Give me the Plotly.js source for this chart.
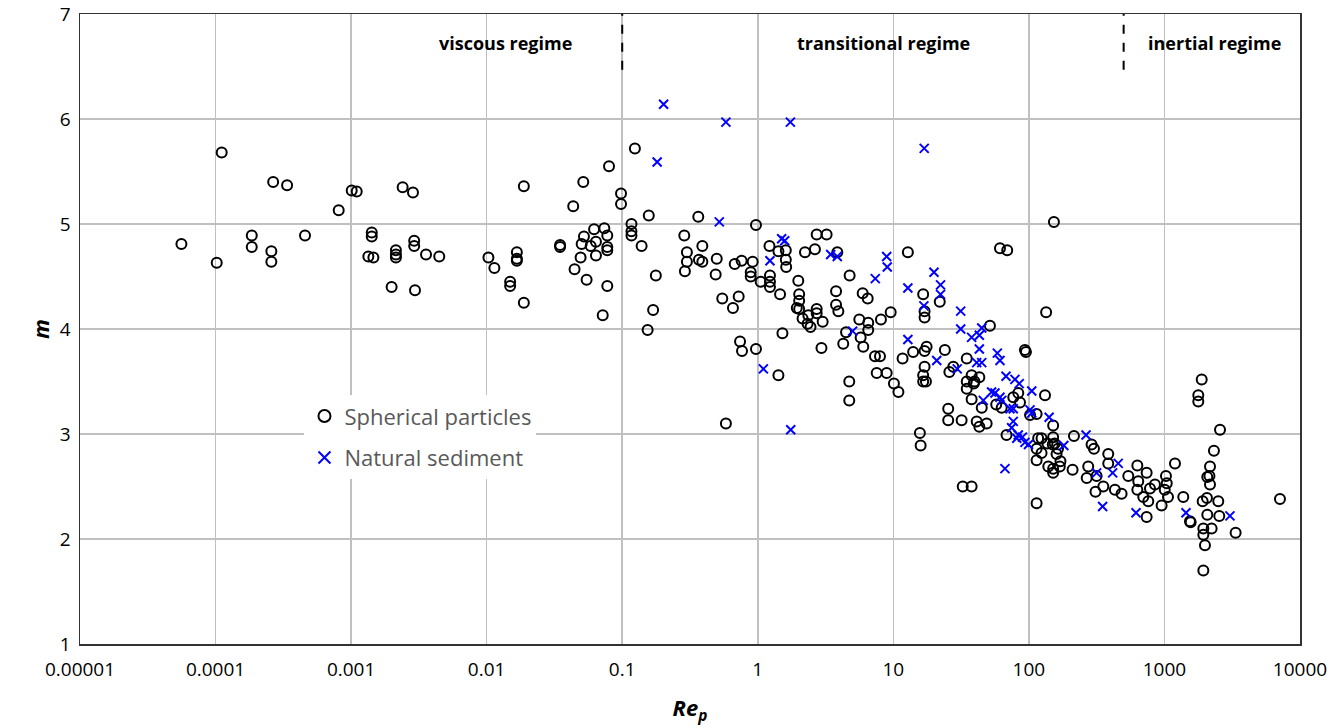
<!DOCTYPE html>
<html>
<head>
<meta charset="utf-8">
<script src="https://cdn.plot.ly/plotly-3.0.1.min.js"></script>
<style>html,body{margin:0;padding:0;background:#fff;}#chart{width:1344px;height:726px;}</style>
</head>
<body>
<div id="chart"></div>
<script>
// Spherical particles (Re_p, m)
const sphereRe = [
5.6e-5,1.02e-4,1.11e-4,1.85e-4,1.85e-4,2.58e-4,2.58e-4,2.66e-4,3.37e-4,4.57e-4,8.1e-4,1.01e-3,1.10e-3,1.42e-3,1.42e-3,1.34e-3,1.46e-3,2.14e-3,2.14e-3,2.14e-3,1.99e-3,2.4e-3,2.86e-3,2.92e-3,2.92e-3,3.57e-3,4.47e-3,2.96e-3,
0.0188,0.0103,0.0114,0.0167,0.0167,0.0167,0.0149,0.0149,0.0188,0.0348,0.0348,0.0516,0.0799,0.0435,0.098,0.098,0.062,0.0738,0.0522,0.0776,0.0502,0.0585,0.064,0.0776,0.0776,0.064,0.0493,0.0445,0.0546,0.0776,0.0718,
0.124,0.157,0.364,0.97,0.117,0.117,0.117,0.139,0.287,0.39,0.30,0.30,0.29,0.368,0.39,0.498,0.489,0.177,0.676,0.76,0.917,0.887,0.887,1.05,1.22,1.42,1.23,1.23,1.23,1.46,0.169,0.154,0.547,0.723,0.656,0.74,0.765,0.97,1.52,1.42,0.582,
2.72,3.22,2.64,2.23,3.86,1.61,1.61,1.62,12.8,4.76,1.99,2.02,2.02,1.94,2.02,2.72,2.72,2.14,2.36,2.33,2.45,3.01,3.78,3.78,3.93,5.94,6.47,5.61,6.53,6.53,8.1,9.56,4.48,5.74,6.0,4.27,2.95,7.32,7.97,11.7,14.0,17.6,16.6,17.0,17.0,
7.54,8.93,10.1,10.9,4.73,4.73,15.7,15.9,17.0,17.0,16.6,16.6,17.4,
153,61.2,69.2,22,134,51.6,
24.0,93.5,95.1,34.8,25.9,27.7,37.8,43.1,34.8,39.7,39.2,34.8,131.5,37.8,44.9,57.4,63,76.7,83.5,86,102,114,151,25.4,25.4,31.9,41.2,43.1,48.8,68.4,117,124,137,151,155,164,114,124,114,139,151,32.5,37.8,114,
150,160,171,169,151,210,215,290,302,385,385,274,267,316,310,354,431,483,541,631,739,641,631,698,760,782,851,1026,1040,1005,1062,953,1196,739,
1883,1777,1777,2570,2318,2168,2148,2070,2168,1377,2059,1914,2495,7116,1543,1561,2070,2538,1936,2229,1936,1990,3350,1936
];
const sphereM = [
4.81,4.63,5.68,4.89,4.78,4.74,4.64,5.40,5.37,4.89,5.13,5.32,5.31,4.92,4.88,4.69,4.68,4.75,4.71,4.68,4.40,5.35,5.30,4.84,4.79,4.71,4.69,4.37,
5.36,4.68,4.58,4.73,4.67,4.65,4.45,4.41,4.25,4.80,4.78,5.40,5.55,5.17,5.29,5.19,4.95,4.96,4.88,4.89,4.81,4.79,4.83,4.78,4.75,4.70,4.68,4.57,4.47,4.41,4.13,
5.72,5.08,5.07,4.99,5.00,4.93,4.89,4.79,4.89,4.79,4.73,4.64,4.55,4.66,4.64,4.67,4.52,4.51,4.62,4.65,4.64,4.54,4.50,4.45,4.79,4.74,4.51,4.45,4.40,4.33,4.18,3.99,4.29,4.31,4.20,3.88,3.79,3.81,3.96,3.56,3.10,
4.90,4.90,4.76,4.73,4.73,4.75,4.66,4.59,4.73,4.51,4.46,4.33,4.27,4.20,4.19,4.19,4.15,4.10,4.13,4.05,4.02,4.07,4.36,4.23,4.17,4.34,4.29,4.09,4.06,3.99,4.09,4.16,3.97,3.92,3.83,3.86,3.82,3.74,3.74,3.72,3.78,3.83,4.33,4.11,4.17,
3.58,3.58,3.48,3.40,3.50,3.32,3.01,2.89,3.79,3.64,3.56,3.50,3.50,
5.02,4.77,4.75,4.26,4.16,4.03,
3.80,3.80,3.78,3.72,3.59,3.64,3.56,3.54,3.50,3.50,3.48,3.43,3.37,3.33,3.25,3.28,3.25,3.35,3.39,3.30,3.18,3.19,3.08,3.24,3.13,3.13,3.12,3.07,3.10,2.99,2.96,2.96,2.91,2.97,2.91,2.86,2.86,2.82,2.75,2.69,2.63,2.50,2.50,2.34,
2.90,2.81,2.74,2.69,2.67,2.66,2.98,2.90,2.86,2.81,2.72,2.69,2.58,2.60,2.45,2.50,2.47,2.43,2.60,2.70,2.63,2.55,2.47,2.40,2.36,2.48,2.52,2.60,2.53,2.47,2.40,2.32,2.72,2.21,
3.52,3.37,3.31,3.04,2.84,2.69,2.60,2.59,2.52,2.40,2.39,2.36,2.36,2.38,2.17,2.16,2.23,2.22,2.10,2.10,2.04,1.94,2.06,1.70
];
// Natural sediment (Re_p, m)
const sedimentRe = [0.202,0.582,0.181,0.52,1.23,1.50,1.58,1.10,1.74,16.9,3.45,3.86,8.93,9.02,7.36,12.8,16.8,5.01,12.8,1.75,19.95,22.3,22.3,31.4,31.4,44.9,43.1,37.8,20.9,43.1,58.5,61.2,41.2,44.9,29.6,67.8,78.9,84.9,105,53.1,56.2,61.2,63.1,46.1,72.5,76.7,102,105,141,76.7,74.6,83.5,89.6,93.5,99.3,81.4,66.6,181,264,456,316,415,350,617,1442,3043];
const sedimentM = [6.14,5.97,5.59,5.02,4.65,4.86,4.84,3.62,5.97,5.72,4.71,4.69,4.69,4.59,4.48,4.39,4.22,3.98,3.90,3.04,4.54,4.42,4.33,4.17,4.00,4.01,3.94,3.92,3.70,3.81,3.77,3.70,3.68,3.68,3.62,3.55,3.52,3.48,3.41,3.40,3.39,3.35,3.32,3.32,3.24,3.24,3.23,3.20,3.16,3.12,3.06,2.99,2.97,2.92,2.90,2.96,2.67,2.89,2.99,2.72,2.63,2.63,2.31,2.25,2.25,2.22];

const xTickVals = [1e-5,1e-4,1e-3,1e-2,1e-1,1,10,100,1000,10000];
const xTickText = ["0.00001","0.0001","0.001","0.01","0.1","1","10","100","1000","10000"];
const regimeLabels = ["viscous regime","transitional regime","inertial regime"];
const regimeLabelRe = [0.0137,8.5,2360];
const regimeBounds = [0.1,500];

const FONT = "Open Sans, Liberation Sans, sans-serif";

const traces = [
  {x: sphereRe, y: sphereM, type:'scatter', mode:'markers', name:'Spherical particles', legendgroup:'a',
   marker:{symbol:'circle-open', size:10, color:'#000', line:{width:2, color:'#000'}}},
  {x: sedimentRe, y: sedimentM, type:'scatter', mode:'markers', name:'Natural sediment', legendgroup:'b',
   marker:{symbol:'x-thin-open', size:9, color:'#0000ff', line:{width:2, color:'#0000ff'}}}
];

const shapes = regimeBounds.map(v => ({type:'line', xref:'x', yref:'y', x0:v, x1:v, y0:6.47, y1:7,
  line:{color:'#000', width:2, dash:'dash'}}));

const annotations = regimeLabels.map((t,i) => ({x: Math.log10(regimeLabelRe[i]), y:6.72, xref:'x', yref:'y',
  text:'<b>'+t+'</b>', showarrow:false, font:{family:FONT, size:18, color:'#000'}}));

const layout = {
  width:1344, height:726,
  margin:{l:80, r:44, t:14, b:82},
  paper_bgcolor:'#fff', plot_bgcolor:'#fff',
  font:{family:FONT, color:'#000'},
  showlegend:true,
  legend:{x:0.184, y:0.395, xanchor:'left', yanchor:'top', bgcolor:'#fff', borderwidth:0,
    font:{family:FONT, size:22, color:'#595959'}, itemsizing:'constant', tracegroupgap:10},
  xaxis:{type:'log', range:[-5,4], tickvals:xTickVals, ticktext:xTickText,
    showgrid:true, gridcolor:'#c0c0c0', gridwidth:1.5,
    showline:true, linecolor:'#333', linewidth:1.5, mirror:true, ticks:'', ticklabelstandoff:8,
    tickfont:{family:FONT, size:19, color:'#000'}, zeroline:false,
    title:{text:'<b><i>Re<sub>p</sub></i></b>', font:{family:FONT, size:22, color:'#000'}, standoff:22}},
  yaxis:{range:[1,7], dtick:1, tick0:1,
    showgrid:true, gridcolor:'#c0c0c0', gridwidth:1.5,
    showline:true, linecolor:'#333', linewidth:1.5, mirror:true, ticks:'', ticklabelstandoff:4,
    tickfont:{family:FONT, size:19, color:'#000'}, zeroline:false,
    title:{text:'<b><i>m</i></b>', font:{family:FONT, size:22, color:'#000'}, standoff:4}},
  shapes: shapes,
  annotations: annotations
};

Plotly.newPlot('chart', traces, layout, {displayModeBar:false, staticPlot:true});
</script>
</body>
</html>
